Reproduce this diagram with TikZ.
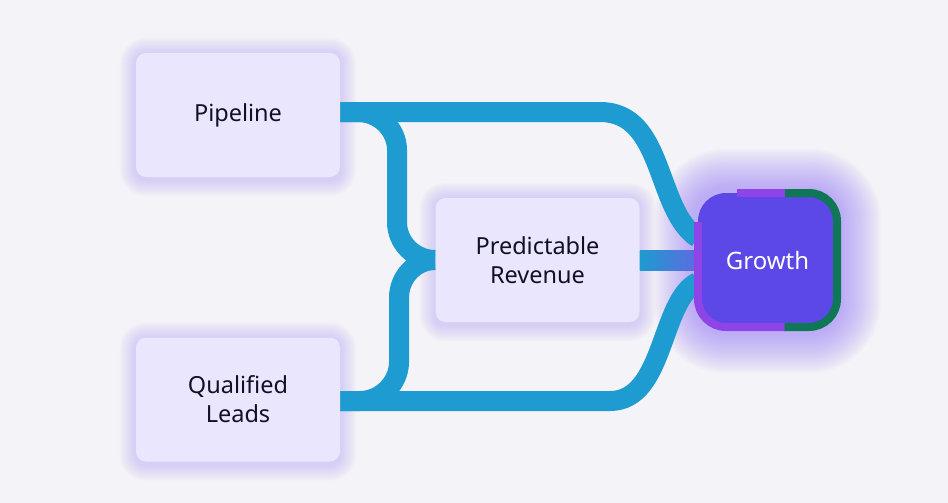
\documentclass[tikz,border=0pt]{standalone}
\usepackage{fontspec}
\setmainfont{Noto Sans}
\usetikzlibrary{calc}
\definecolor{bgc}{RGB}{244,243,247}
\definecolor{boxc}{RGB}{234,230,253}
\definecolor{glowc}{RGB}{190,175,245}
\definecolor{gglow}{RGB}{150,120,245}
\definecolor{txtc}{RGB}{16,16,40}
\definecolor{connc}{RGB}{30,155,208}
\definecolor{connend}{RGB}{95,105,225}
\definecolor{growc}{RGB}{91,72,230}
\definecolor{purpc}{RGB}{142,68,230}
\definecolor{greenc}{RGB}{15,118,86}
\pgfdeclarelayer{glow}
\pgfdeclarelayer{lines}
\pgfdeclarelayer{bg}
\pgfsetlayers{bg,glow,lines,main}
\tikzset{
  box/.style={rectangle, rounded corners=10pt, fill=boxc, minimum width=204pt,
    minimum height=124pt, inner sep=0pt, text=txtc, align=center,
    font=\fontsize{23.5}{29}\selectfont},
  gbox/.style={rectangle, rounded corners=28pt, fill=growc, minimum width=139pt,
    minimum height=134pt, inner sep=0pt, text=white,
    font=\fontsize{24}{29}\selectfont},
  conn/.style={draw=connc, line width=20pt},
  gborder/.style={line width=8pt, rounded corners=28pt}
}
\begin{document}
\begin{tikzpicture}[x=1pt,y=-1pt]
\begin{pgfonlayer}{bg}
\fill[bgc] (0,0) rectangle (948,503);
\end{pgfonlayer}
\useasboundingbox (0,0) rectangle (948,503);

\node[box] (pipe) at (238,115) {Pipeline};
\node[box] (lead) at (238,399.5) {Qualified\\Leads};
\node[box] (rev) at (537.5,260) {Predictable\\Revenue};
\node[gbox] (grow) at (767.5,260) {Growth};

% glow
\begin{pgfonlayer}{glow}
\foreach \n in {pipe,lead,rev}{
  \foreach \k in {1,2,...,16}{
    \fill[glowc, opacity=0.035, rounded corners={(10+\k)*1pt}]
      ($(\n.south west)+(-\k,\k+3)$) rectangle ($(\n.north east)+(\k,-\k+1)$);
  }
}
\foreach \k in {2,4,...,40}{
  \fill[gglow, opacity=0.035, rounded corners={(32+\k)*1pt}]
    ($(grow.south west)+(-4-\k,4+\k+2)$) rectangle ($(grow.north east)+(4+\k,-4-\k)$);
}
\end{pgfonlayer}

% connectors
\begin{pgfonlayer}{lines}
\draw[conn] ([yshift=3pt]pipe.east) -- (600,112)
  .. controls (665,112) and (655,210) .. ([yshift=22pt]grow.west);
\draw[conn] ([yshift=3pt]pipe.east) -- (358,112)
  .. controls (379,112) and (397,129) .. (397,150) -- (397,222)
  .. controls (397,243) and (414,260) .. (rev.west);
\draw[conn] ([yshift=-1.5pt]lead.east) -- (360,401)
  .. controls (381,401) and (399,383) .. (399,362) -- (399,298)
  .. controls (399,277) and (415,260) .. (rev.west);
\draw[conn] ([yshift=-1.5pt]lead.east) -- (610,401)
  .. controls (665,401) and (660,300) .. ([yshift=-22pt]grow.west);
\shade[left color=connc, right color=connend]
  ([yshift=10pt]rev.east) rectangle ([yshift=-10pt]grow.west);
\end{pgfonlayer}

% growth border
\draw[gborder, draw=greenc] (784,193) -- (837,193) -- (837,327) -- (784,327);
\draw[gborder, draw=purpc] (737,193) -- (784.5,193);
\draw[gborder, draw=purpc] (698,222) -- (698,327) -- (784.5,327);
\end{tikzpicture}
\end{document}
